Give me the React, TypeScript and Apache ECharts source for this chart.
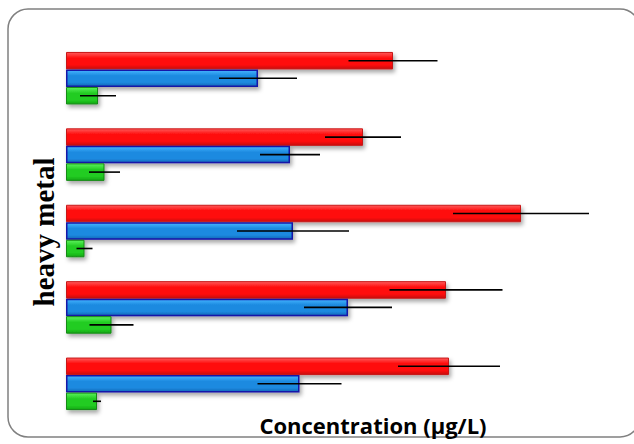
import React, { useEffect, useRef } from "react";
import * as echarts from "echarts";

const categories = ["G1", "G2", "G3", "G4", "G5"];
const redValues = [65.4, 59.4, 91.0, 76.0, 76.6];
const redErrors = [8.9, 7.6, 13.6, 11.3, 10.2];
const blueValues = [38.4, 44.8, 45.4, 56.4, 46.7];
const blueErrors = [7.8, 6.0, 11.2, 8.8, 8.4];
const greenValues = [6.4, 7.7, 3.7, 9.1, 6.2];
const greenErrors = [3.6, 3.1, 1.6, 4.4, 0.8];

const yTitle = "heavy metal";
const xTitle = "Concentration (μg/L)";

function grad(top: string, mid: string, bottom: string) {
  return new echarts.graphic.LinearGradient(0, 0, 0, 1, [
    { offset: 0, color: top },
    { offset: 0.35, color: mid },
    { offset: 0.75, color: mid },
    { offset: 1, color: bottom },
  ]);
}

function errorSeries(values: number[], errors: number[], offset: number) {
  return {
    type: "custom",
    z: 5,
    encode: { y: 0, x: 1 },
    data: values.map((v, i) => [i, v, errors[i]]),
    renderItem: (params: any, api: any) => {
      const idx = api.value(0);
      const v = api.value(1);
      const e = api.value(2);
      const lo = api.coord([v - e, idx]);
      const hi = api.coord([v + e, idx]);
      const y = lo[1] + offset;
      return {
        type: "line",
        shape: { x1: lo[0], y1: y, x2: hi[0], y2: y },
        style: { stroke: "#000", lineWidth: 1.6 },
      };
    },
  };
}

export default function App() {
  const ref = useRef<HTMLDivElement>(null);
  useEffect(() => {
    if (!ref.current) return;
    const chart = echarts.init(ref.current, undefined, { renderer: "svg" });
    const shadow = {
      shadowBlur: 4,
      shadowOffsetX: 2,
      shadowOffsetY: 3,
      shadowColor: "rgba(0,0,0,0.35)",
    };
    chart.setOption({
      animation: false,
      backgroundColor: "#fff",
      grid: { left: 66, width: 550, top: 40, height: 382 },
      xAxis: {
        type: "value",
        min: 0,
        max: 110,
        show: false,
        splitLine: { show: false },
      },
      yAxis: {
        type: "category",
        data: categories,
        inverse: true,
        show: false,
      },
      graphic: [
        {
          type: "rect",
          shape: { x: 8, y: 9, width: 632, height: 428, r: 20 },
          style: { fill: "none", stroke: "#808080", lineWidth: 1.5 },
          z: 0,
        },
        {
          type: "text",
          x: 44,
          y: 232,
          rotation: Math.PI / 2,
          style: {
            text: yTitle,
            fontFamily: "Liberation Serif",
            fontWeight: "bold",
            fontSize: 29,
            fill: "#000",
            align: "center",
            verticalAlign: "middle",
          },
        },
        {
          type: "text",
          x: 373,
          y: 425,
          style: {
            text: xTitle,
            fontFamily: "Open Sans",
            fontWeight: "bold",
            fontSize: 22,
            fill: "#000",
            align: "center",
            verticalAlign: "middle",
          },
        },
      ],
      series: [
        {
          type: "bar",
          data: redValues,
          barWidth: 17.5,
          barGap: "0%",
          itemStyle: {
            color: grad("#ff5a5a", "#ff0a0a", "#c80e0e"),
            borderColor: "#c81818",
            borderWidth: 1,
            ...shadow,
          },
        },
        {
          type: "bar",
          data: blueValues,
          barWidth: 17.5,
          barGap: "0%",
          itemStyle: {
            color: grad("#45b4ff", "#1c8ae0", "#1468b8"),
            borderColor: "#1616a8",
            borderWidth: 1.5,
            ...shadow,
          },
        },
        {
          type: "bar",
          data: greenValues,
          barWidth: 17.5,
          barGap: "0%",
          itemStyle: {
            color: grad("#5cf25c", "#22cc22", "#14a814"),
            borderColor: "#138a13",
            borderWidth: 1,
            ...shadow,
          },
        },
        errorSeries(redValues, redErrors, -17.5),
        errorSeries(blueValues, blueErrors, 0),
        errorSeries(greenValues, greenErrors, 17.5),
      ],
    });
    return () => chart.dispose();
  }, []);
  return (
    <div
      ref={ref}
      style={{ position: "fixed", left: 0, top: 0, width: 634, height: 444 }}
    />
  );
}
